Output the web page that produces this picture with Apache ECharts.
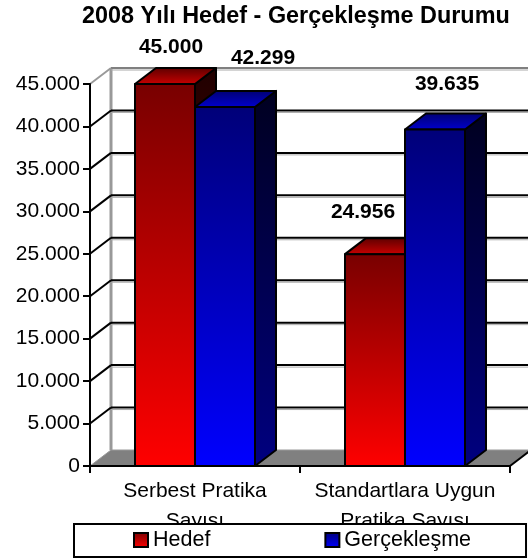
<!DOCTYPE html>
<html>
<head>
<meta charset="utf-8">
<style>html,body{margin:0;padding:0;background:#fff}#c{width:528px;height:559px}</style>
<script src="https://cdn.jsdelivr.net/npm/echarts@6/dist/echarts.min.js"></script>
</head>
<body>
<div id="c"></div>
<script>
const titleText = '2008 Yılı Hedef - Gerçekleşme Durumu';
const categories = ['Serbest Pratika\nSayısı', 'Standartlara Uygun\nPratika Sayısı'];
const hedef = [45000, 24956];
const gerceklesme = [42299, 39635];
const yTicks = [0, 5000, 10000, 15000, 20000, 25000, 30000, 35000, 40000, 45000];

// Pseudo-3D projection and label placement (style only)
const DX = 21, DY = 16, BAR_FRACTION = 60 / 210;
const FONT = '"Liberation Sans", Arial, sans-serif';
const LABEL_NUDGE = {
  Hedef: [[6, -37], [-12, -42]],
  'Gerçekleşme': [[38, -49], [12, -45]]
};
const fmt = v => String(v).replace(/\B(?=(\d{3})+$)/g, '.');
const vgrad = (a, b) => ({type: 'linear', x: 0, y: 0, x2: 0, y2: 1,
  colorStops: [{offset: 0, color: a}, {offset: 1, color: b}]});
const PALETTE = {
  Hedef: {front: vgrad('#780000', '#ff0000'), top: vgrad('#5a0000', '#cc0000'), side: vgrad('#200000', '#800000')},
  'Gerçekleşme': {front: vgrad('#000078', '#0000ff'), top: vgrad('#000070', '#0000d0'), side: vgrad('#000020', '#000080')}
};
const EDGE = {stroke: '#000', lineWidth: 2, lineJoin: 'round'};

function renderWall(params, api) {
  const v = api.value(0), rect = params.coordSys;
  const x0 = rect.x, x1 = rect.x + rect.width, y = api.coord([0, v])[1];
  const top = v === yTicks[yTicks.length - 1];
  const children = [];
  if (v === 0) {
    children.push({type: 'polygon', shape: {points: [[x0, y], [x0 + DX, y - DY], [x1 + DX, y - DY], [x1, y]]},
      style: {fill: '#808080', stroke: '#999', lineWidth: 1}});
    children.push({type: 'line', shape: {x1: x1, y1: y, x2: x1 + DX, y2: y - DY},
      style: {stroke: '#000', lineWidth: 2}});
    children.push({type: 'line', shape: {x1: x0 + DX, y1: y - DY, x2: x0 + DX, y2: rect.y - DY},
      style: {stroke: '#999', lineWidth: 3}});
  } else {
    const col = top ? '#808080' : '#000';
    children.push({type: 'line', shape: {x1: x0 + DX, y1: y - DY + 2, x2: x1 + DX, y2: y - DY + 2},
      style: {stroke: '#aaa', lineWidth: 1}});
    children.push({type: 'line', shape: {x1: x0 + DX, y1: y - DY, x2: x1 + DX, y2: y - DY},
      style: {stroke: col, lineWidth: 2}});
    children.push({type: 'line', shape: {x1: x0, y1: y, x2: x0 + DX, y2: y - DY},
      style: {stroke: top ? '#999' : '#000', lineWidth: 2}});
  }
  return {type: 'group', children};
}

function renderBar(name, offsetIndex) {
  return function (params, api) {
    const cat = api.value(0), val = api.value(1);
    const band = api.size([1, 0])[0];
    const w = band * BAR_FRACTION;
    const c = api.coord([cat, val]);
    const base = api.coord([cat, 0])[1];
    const l = c[0] + offsetIndex * w, r = l + w, t = c[1];
    const p = PALETTE[name], nudge = LABEL_NUDGE[name][cat];
    return {type: 'group', children: [
      {type: 'polygon', shape: {points: [[r, t], [r + DX, t - DY], [r + DX, base - DY], [r, base]]},
        style: Object.assign({fill: p.side}, EDGE)},
      {type: 'polygon', shape: {points: [[l, t], [l + DX, t - DY], [r + DX, t - DY], [r, t]]},
        style: Object.assign({fill: p.top}, EDGE)},
      {type: 'rect', shape: {x: l, y: t, width: w, height: base - t},
        style: Object.assign({fill: p.front}, EDGE)},
      {type: 'text', x: l + w / 2 + nudge[0], y: t + nudge[1],
        style: {text: fmt(val), fill: '#000', align: 'center', verticalAlign: 'middle',
          font: 'bold 21px ' + FONT}}
    ]};
  };
}

const chart = echarts.init(document.getElementById('c'), null, {renderer: 'canvas'});
chart.setOption({
  animation: false,
  backgroundColor: '#fff',
  title: {text: titleText, left: 82, top: 5, padding: 0,
    textStyle: {fontFamily: FONT, fontWeight: 'bold', fontSize: 23.4, color: '#000'}},
  legend: {
    show: true, left: 74, top: 524, orient: 'horizontal',
    data: ['Hedef', 'Gerçekleşme'], icon: 'rect',
    itemWidth: 14, itemHeight: 14, itemGap: 114,
    padding: [5, 55, 6, 59],
    backgroundColor: '#fff', borderColor: '#000', borderWidth: 2, borderRadius: 0,
    textStyle: {fontFamily: FONT, fontSize: 21.5, color: '#000'}
  },
  grid: {left: 90, right: 18, top: 84, height: 382, containLabel: false},
  xAxis: {
    type: 'category', data: categories, z: 3,
    axisLine: {lineStyle: {color: '#000', width: 2}},
    axisTick: {show: true, length: 7, lineStyle: {color: '#000', width: 2}, alignWithLabel: false},
    axisLabel: {fontFamily: FONT, fontSize: 21, color: '#000', lineHeight: 30, margin: 10, interval: 0}
  },
  yAxis: {
    type: 'value', min: 0, max: 45000, interval: 5000, z: 3,
    axisLine: {show: true, lineStyle: {color: '#000', width: 2}},
    axisTick: {show: true, length: 7, lineStyle: {color: '#000', width: 2}},
    axisLabel: {fontFamily: FONT, fontSize: 21, color: '#000', margin: 10, formatter: v => fmt(v)},
    splitLine: {show: false}
  },
  series: [
    {type: 'custom', name: 'wall', silent: true, clip: false, z: 1,
      coordinateSystem: 'cartesian2d', encode: {x: 1, y: 0},
      data: yTicks.map(v => [v, 0]), renderItem: renderWall},
    {type: 'custom', name: 'Hedef', clip: false, z: 2,
      coordinateSystem: 'cartesian2d', encode: {x: 0, y: 1},
      itemStyle: {color: PALETTE.Hedef.front, borderColor: '#000', borderWidth: 2},
      data: hedef.map((v, i) => [i, v]), renderItem: renderBar('Hedef', -1)},
    {type: 'custom', name: 'Gerçekleşme', clip: false, z: 2,
      coordinateSystem: 'cartesian2d', encode: {x: 0, y: 1},
      itemStyle: {color: PALETTE['Gerçekleşme'].front, borderColor: '#000', borderWidth: 2},
      data: gerceklesme.map((v, i) => [i, v]), renderItem: renderBar('Gerçekleşme', 0)}
  ]
});
</script>
</body>
</html>
